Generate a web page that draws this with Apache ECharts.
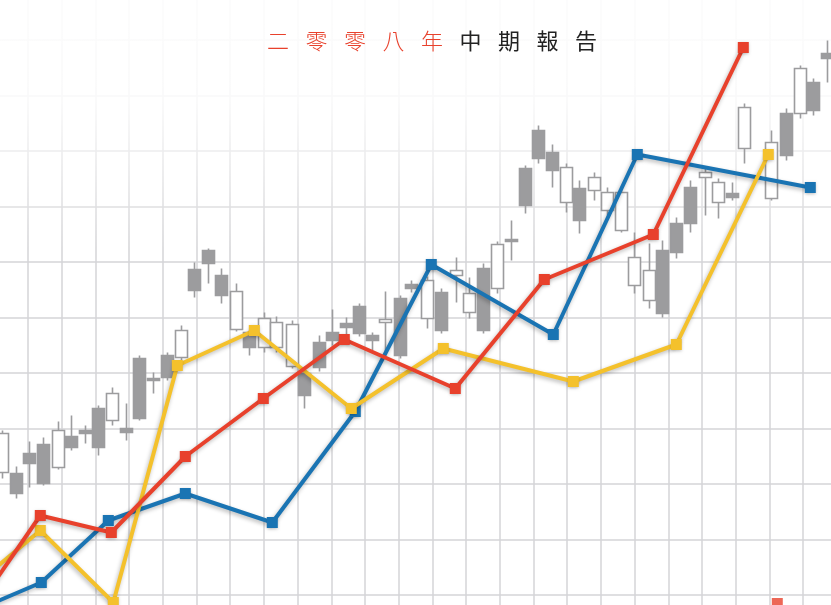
<!DOCTYPE html>
<html>
<head>
<meta charset="utf-8">
<script src="https://cdn.jsdelivr.net/npm/echarts@6/dist/echarts.min.js"></script>
<style>
html,body{margin:0;padding:0;background:#fff;}
#c{width:831px;height:605px;}
</style>
</head>
<body>
<div id="c"></div>
<script>
// Title characters
const titleRed = ['二', '零', '零', '八', '年'];
const titleBlack = ['中', '期', '報', '告'];

// Line series: [time, level]
const blueLine = [[-14, 42], [47, 68], [114, 130], [191, 157], [278, 128], [361, 239], [437, 386], [559, 316], [643, 496], [816, 463]];
const redLine = [[-14, 48], [46, 135], [117, 118], [191, 194], [269, 252], [350, 311], [461, 262], [550, 371], [659, 416], [749, 603]];
const yellowLine = [[-14, 70], [46, 120], [119, 48], [183, 285], [260, 320], [357, 242], [449, 302], [579, 269], [682, 306], [774, 496]];
const redExtra = [[783, 47]];

// Candles: [time, open, close, low, high]
const candles = [
  [8, 178, 217, 172, 220],
  [22, 177, 157, 152, 184],
  [35, 197, 187, 163, 209],
  [49, 206, 167, 165, 213],
  [64, 183, 220, 181, 229],
  [77, 214, 203, 200, 235],
  [91, 220, 217, 207, 225],
  [104, 242, 203, 195, 245],
  [118, 230, 257, 225, 263],
  [132, 222, 218, 210, 247],
  [145, 292, 232, 230, 295],
  [159, 272, 270, 257, 278],
  [173, 295, 273, 270, 298],
  [187, 293, 320, 290, 325],
  [200, 381, 360, 353, 388],
  [214, 400, 387, 367, 402],
  [227, 375, 355, 347, 382],
  [242, 321, 359, 319, 367],
  [255, 318, 303, 295, 320],
  [270, 303, 332, 298, 338],
  [282, 303, 328, 298, 334],
  [298, 284, 326, 282, 330],
  [310, 277, 255, 242, 280],
  [325, 308, 283, 279, 315],
  [338, 318, 310, 305, 341],
  [352, 327, 323, 313, 333],
  [365, 344, 317, 314, 347],
  [378, 315, 310, 300, 318],
  [391, 328, 331, 298, 359],
  [406, 352, 295, 292, 355],
  [417, 366, 362, 358, 370],
  [433, 332, 370, 322, 374],
  [447, 358, 320, 317, 362],
  [462, 375, 380, 348, 393],
  [475, 338, 357, 332, 373],
  [489, 382, 320, 317, 387],
  [503, 362, 406, 357, 409],
  [517, 411, 409, 390, 430],
  [531, 482, 445, 437, 485],
  [544, 520, 492, 487, 525],
  [558, 498, 480, 463, 506],
  [572, 448, 483, 438, 487],
  [585, 462, 430, 417, 470],
  [600, 460, 473, 450, 478],
  [613, 440, 458, 435, 463],
  [627, 420, 458, 418, 463],
  [640, 365, 393, 357, 418],
  [655, 350, 380, 342, 407],
  [668, 400, 337, 333, 410],
  [682, 427, 398, 392, 433],
  [696, 463, 427, 418, 470],
  [711, 473, 478, 435, 482],
  [724, 448, 468, 432, 472],
  [738, 457, 453, 450, 468],
  [750, 502, 543, 487, 547],
  [777, 452, 508, 450, 520],
  [792, 537, 495, 490, 542],
  [806, 537, 582, 532, 585],
  [819, 568, 540, 535, 572],
  [833, 597, 592, 568, 610]
];

const BLUE = '#1a74b3';
const RED = '#e8412c';
const YELLOW = '#f4c12c';
const GRAY = '#9c9c9e';
const CJK = '"Noto Sans CJK TC","Noto Sans CJK SC",sans-serif';

const titleText = titleRed.map(c => '{r|' + c + '}').join('') + titleBlack.map(c => '{k|' + c + '}').join('');

function lineSeries(data, color, z) {
  return {
    type: 'line',
    data: data,
    z: z,
    symbol: 'rect',
    symbolSize: 11,
    showSymbol: true,
    lineStyle: {
      color: color, width: 4,
      shadowColor: 'rgba(0,0,0,0.28)', shadowBlur: 4, shadowOffsetX: -1, shadowOffsetY: 2
    },
    itemStyle: { color: color, shadowColor: 'rgba(0,0,0,0.25)', shadowBlur: 3, shadowOffsetY: 1 },
    animation: false,
    silent: true
  };
}

const chart = echarts.init(document.getElementById('c'), null, { renderer: 'canvas' });
chart.setOption({
  backgroundColor: '#ffffff',
  animation: false,
  title: {
    text: titleText,
    left: 262,
    top: 25,
    textStyle: {
      rich: {
        r: { color: RED, fontSize: 22, width: 38.5, fontFamily: CJK, fontWeight: 300 },
        k: { color: '#222222', fontSize: 22, width: 38.5, fontFamily: CJK, fontWeight: 400 }
      }
    }
  },
  grid: { left: -5.7, top: -15.5, width: 876.2, height: 666, outerBoundsMode: 'none', containLabel: false },
  xAxis: {
    type: 'value', min: 0, max: 876.2, interval: 33.7,
    axisLine: { show: false }, axisTick: { show: false }, axisLabel: { show: false },
    splitLine: { show: true, lineStyle: { color: '#d5d5d7', width: 1.5 } }
  },
  yAxis: {
    type: 'value', min: 0, max: 666, interval: 55.5,
    axisLine: { show: false }, axisTick: { show: false }, axisLabel: { show: false },
    splitLine: { show: true, lineStyle: { color: '#d5d5d7', width: 1.5 } }
  },
  graphic: [{
    type: 'rect',
    z: 1,
    silent: true,
    shape: { x: 0, y: 0, width: 831, height: 250 },
    style: {
      fill: new echarts.graphic.LinearGradient(0, 0, 0, 1, [
        { offset: 0, color: 'rgba(255,255,255,0.92)' },
        { offset: 0.4, color: 'rgba(255,255,255,0.85)' },
        { offset: 0.65, color: 'rgba(255,255,255,0.5)' },
        { offset: 1, color: 'rgba(255,255,255,0)' }
      ])
    }
  }],
  series: [
    {
      type: 'candlestick',
      data: candles,
      encode: { x: 0, y: [1, 2, 3, 4] },
      barWidth: 12,
      z: 3,
      itemStyle: {
        color: '#ffffff', borderColor: GRAY,
        color0: GRAY, borderColor0: GRAY,
        borderWidth: 1.6
      },
      animation: false,
      silent: true
    },
    lineSeries(blueLine, BLUE, 5),
    lineSeries(yellowLine, YELLOW, 6),
    lineSeries(redLine, RED, 7),
    {
      type: 'scatter',
      data: redExtra,
      symbol: 'rect',
      symbolSize: 11,
      z: 7,
      itemStyle: { color: RED },
      animation: false,
      silent: true
    }
  ]
});
</script>
</body>
</html>
